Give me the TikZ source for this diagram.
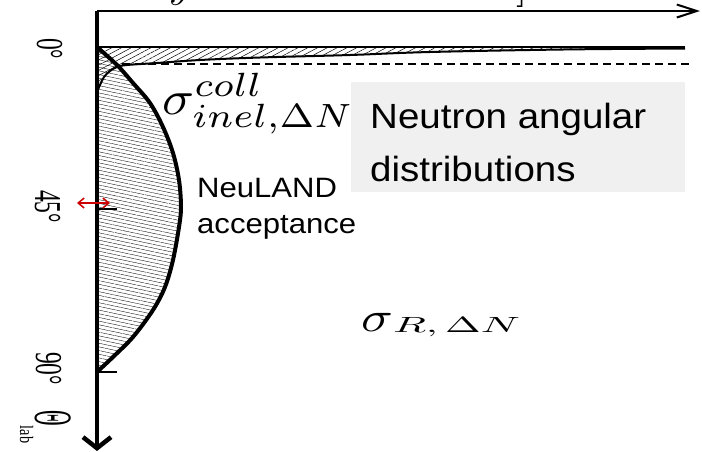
\documentclass[tikz,border=0pt]{standalone}
\usepackage{fontspec}
\setsansfont{Liberation Sans}
\newfontfamily\serifdeg{Liberation Serif}
\usetikzlibrary{arrows.meta,patterns.meta}
\definecolor{boxgray}{RGB}{240,240,240}
\definecolor{arrowred}{RGB}{204,0,0}

\begin{document}
\begin{tikzpicture}[x=1pt,y=-1pt,
  degree/.style={rotate=-90,anchor=base west,inner sep=0pt,
    font=\serifdeg\fontsize{38}{38}\selectfont},
  sanslabel/.style={anchor=base west,inner sep=0pt,
    font=\sffamily\fontsize{35}{35}\selectfont},
  smallsans/.style={anchor=base west,inner sep=0pt,
    font=\sffamily\fontsize{28}{28}\selectfont},
  mathlabel/.style={anchor=base west,inner sep=0pt},
  tick/.style={line width=2.5pt},
  diaghatch/.style={pattern={Lines[angle=28,distance=4.6pt,line width=0.5pt]}},
  horhatch/.style={pattern={Lines[angle=-12,distance=3.6pt,line width=0.35pt]}}]
\useasboundingbox (0,0) rectangle (702,451);

% axis frame points
\coordinate (origin) at (97,11);
\coordinate (xend) at (700,11);
\coordinate (yend) at (97,451);
\coordinate (zero) at (97,47);
\coordinate (zeroend) at (685,47);
\coordinate (t45) at (97,209);
\coordinate (t45e) at (117,209);
\coordinate (t90) at (97,372);
\coordinate (t90e) at (117,372);
\coordinate (dashs) at (122,64);
\coordinate (dashe) at (692,64);
\coordinate (redl) at (77,203);
\coordinate (redr) at (110,203);

% forward-peaked distribution (diagonal hatching)
\path[diaghatch] (zero) -- (zeroend) -- plot[smooth,tension=0.6] coordinates {
  (685,48.5) (563,49.5) (430,52) (350,55) (260,57.5) (200,60) (157,63)
  (127,65) (117,67) (110,71) (104,77) (100,85) (97,92)} -- cycle;

% NeuLAND acceptance region (fine hatching)
\path[horhatch] plot[smooth,tension=0.55] coordinates {
  (97,47) (117,65) (133,83) (150,103) (163,127) (173,153) (179,180)
  (181,207) (179,227) (173,260) (165,287) (153,310) (133,337) (113,357)
  (97,372)} -- cycle;

% dashed reference level
\draw[line width=1.3pt,dash pattern=on 8pt off 5pt] (dashs) -- (dashe);

% boundary curves
\draw[line width=2pt] plot[smooth,tension=0.6] coordinates {
  (685,48.5) (563,49.5) (430,52) (350,55) (260,57.5) (200,60) (157,63)
  (127,65) (117,67) (110,71) (104,77) (100,85) (97,92)};
\draw[line width=4pt] plot[smooth,tension=0.55] coordinates {
  (97,47) (117,65) (133,83) (150,103) (163,127) (173,153) (179,180)
  (181,207) (179,227) (173,260) (165,287) (153,310) (133,337) (113,357)
  (97,372)};
\draw[line width=2.5pt] (zero) -- (zeroend);

% axes
\draw[line width=2pt,-{Straight Barb[length=20pt,width=13pt]}] (origin) -- (xend);
\draw[line width=4.5pt,-{Straight Barb[length=11pt,width=28pt]}] (origin) -- (yend);
\draw[tick] (t45) -- (t45e);
\draw[tick] (t90) -- (t90e);

% acceptance width marker
\draw[arrowred,line width=1.5pt,{Straight Barb[length=6pt,width=10pt]}-{Straight Barb[length=6pt,width=10pt]}] (redl) -- (redr);

% angle labels
\node[degree] (deg0) at (37,38) {\scalebox{0.62}[1]{0°}};
\node[degree] (deg45) at (35,190) {\scalebox{0.62}[1]{45°}};
\node[degree] (deg90) at (36,352) {\scalebox{0.62}[1]{90°}};
\node[rotate=-90,anchor=base west,inner sep=0pt] (thetalab) at (35,410)
  {\serifdeg\scalebox{0.4}[1]{\fontsize{54}{54}\selectfont Θ}\raisebox{-15pt}{\scalebox{0.75}[1]{\fontsize{19}{19}\selectfont lab}}};

% axis title fragments above the frame
\node[mathlabel] (ytitle) at (169,-3) {\scalebox{4}{$y$}};
\node[mathlabel] (brtitle) at (516,-3) {\scalebox{4}{]}};

% cross-section labels
\node[mathlabel] (sigcoll) at (162,114)
  {\scalebox{5.28}[4.8]{$\sigma^{coll}_{inel,\Delta N}$}};
\node[mathlabel] (sigR) at (361,331)
  {\scalebox{5.25}[4.2]{$\sigma$}\raisebox{-1pt}{\scalebox{4.29}[2.2]{$R,\Delta N$}}};

% text box
\node[fill=boxgray,anchor=north west,minimum width=334pt,minimum height=110pt,inner sep=0pt] (box) at (351,82) {};
\node[sanslabel] (neutron) at (370,128) {\scalebox{1.1}[1]{Neutron angular}};
\node[sanslabel] (distr) at (370,181) {\scalebox{1.1}[1]{distributions}};

% detector label
\node[smallsans] (neuland) at (197,197) {\scalebox{1.11}[1]{NeuLAND}};
\node[smallsans] (accept) at (197,233) {\scalebox{1.11}[1]{acceptance}};
\end{tikzpicture}
\end{document}
